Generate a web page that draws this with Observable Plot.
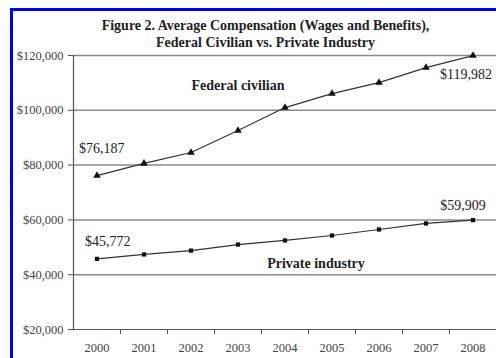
<!DOCTYPE html>
<html>
<head>
<meta charset="utf-8">
<script src="https://cdn.jsdelivr.net/npm/d3@7"></script>
<script src="https://cdn.jsdelivr.net/npm/@observablehq/plot@0.6"></script>
<style>
  html, body { margin: 0; padding: 0; background: #fff; }
  #wrap { position: relative; width: 496px; height: 358px; overflow: hidden; }
  #border { position: absolute; left: 10px; top: 8px; width: 490px; height: 360px;
            border-left: 3px solid #0000f0; border-top: 3px solid #0000f0; pointer-events: none; }
  #wrap svg { position: absolute; left: 0; top: 0; }
</style>
</head>
<body>
<div id="wrap"><div id="border"></div></div>
<script>
const years = [2000, 2001, 2002, 2003, 2004, 2005, 2006, 2007, 2008];
const federal = [76187, 80600, 84600, 92600, 101000, 106100, 110100, 115600, 119982];
const privateInd = [45772, 47400, 48800, 51000, 52500, 54300, 56500, 58700, 59909];
const yTicks = [20000, 40000, 60000, 80000, 100000, 120000];
const titleLines = ["Figure 2. Average Compensation (Wages and Benefits),", "Federal Civilian vs. Private Industry"];
const seriesNames = ["Federal civilian", "Private industry"];

const rows = years.map((y, i) => ({year: y, federal: federal[i], priv: privateInd[i]}));
const first = rows[0], last = rows[rows.length - 1];
const betweenTicks = years.slice(0, -1).map(y => y + 0.5);
const money = d => "$" + d3.format(",")(d);

const chart = Plot.plot({
  width: 496,
  height: 358,
  marginLeft: 73,
  marginRight: 0,
  marginTop: 55,
  marginBottom: 29,
  style: {fontFamily: "'Liberation Serif', 'Times New Roman', serif", background: "transparent", color: "#222"},
  x: {domain: [years[0] - 0.5, years[years.length - 1] + 0.5], axis: null},
  y: {domain: [yTicks[0], yTicks[yTicks.length - 1]], axis: null},
  marks: [
    Plot.ruleY(yTicks.slice(1), {stroke: "#8a8a8a", strokeWidth: 1.5}),
    Plot.ruleY([yTicks[0]], {stroke: "#555", strokeWidth: 1.2}),
    Plot.ruleX([years[0] - 0.5], {stroke: "#555", strokeWidth: 1.2}),
    Plot.axisY(yTicks, {label: null, tickSize: 5, tickPadding: 5, tickFormat: money, fontSize: 12.5, fill: "#444", stroke: "#555"}),
    Plot.axisX(betweenTicks, {label: null, tickSize: 5, tickFormat: () => "", stroke: "#555"}),
    Plot.axisX(years, {label: null, tickSize: 0, tickPadding: 14, tickFormat: d => String(d), fontSize: 12.5, fill: "#444"}),
    Plot.line(rows, {x: "year", y: "federal", stroke: "#333", strokeWidth: 1.2}),
    Plot.line(rows, {x: "year", y: "priv", stroke: "#333", strokeWidth: 1.2}),
    Plot.dot(rows, {x: "year", y: "federal", symbol: "triangle", r: 2.8, fill: "#111"}),
    Plot.dot(rows, {x: "year", y: "priv", symbol: "square", r: 2.4, fill: "#111"}),
    Plot.text([first], {x: "year", y: "federal", text: d => money(d.federal), textAnchor: "start", dx: -18, dy: -27, fontSize: 14, fill: "#222"}),
    Plot.text([last], {x: "year", y: "federal", text: d => money(d.federal), textAnchor: "middle", dx: -7, dy: 19, fontSize: 14, fill: "#222"}),
    Plot.text([first], {x: "year", y: "priv", text: d => money(d.priv), textAnchor: "start", dx: -12, dy: -17, fontSize: 14, fill: "#222"}),
    Plot.text([last], {x: "year", y: "priv", text: d => money(d.priv), textAnchor: "middle", dx: -10, dy: -15, fontSize: 14, fill: "#222"}),
    Plot.text([rows[3]], {x: "year", y: "federal", text: () => seriesNames[0], textAnchor: "middle", dy: -45, fontSize: 14, fontWeight: "bold", fill: "#222"}),
    Plot.text([rows[4]], {x: "year", y: "priv", text: () => seriesNames[1], textAnchor: "middle", dx: 31, dy: 23, fontSize: 14, fontWeight: "bold", fill: "#222"}),
    Plot.text([titleLines[0]], {frameAnchor: "top", dx: -19.5, dy: -30, lineAnchor: "middle", fontSize: 14, fontWeight: "bold", fill: "#222"}),
    Plot.text([titleLines[1]], {frameAnchor: "top", dx: -19.5, dy: -13, lineAnchor: "middle", fontSize: 14, fontWeight: "bold", fill: "#222"})
  ]
});
document.getElementById("wrap").insertBefore(chart, document.getElementById("border"));
</script>
</body>
</html>
